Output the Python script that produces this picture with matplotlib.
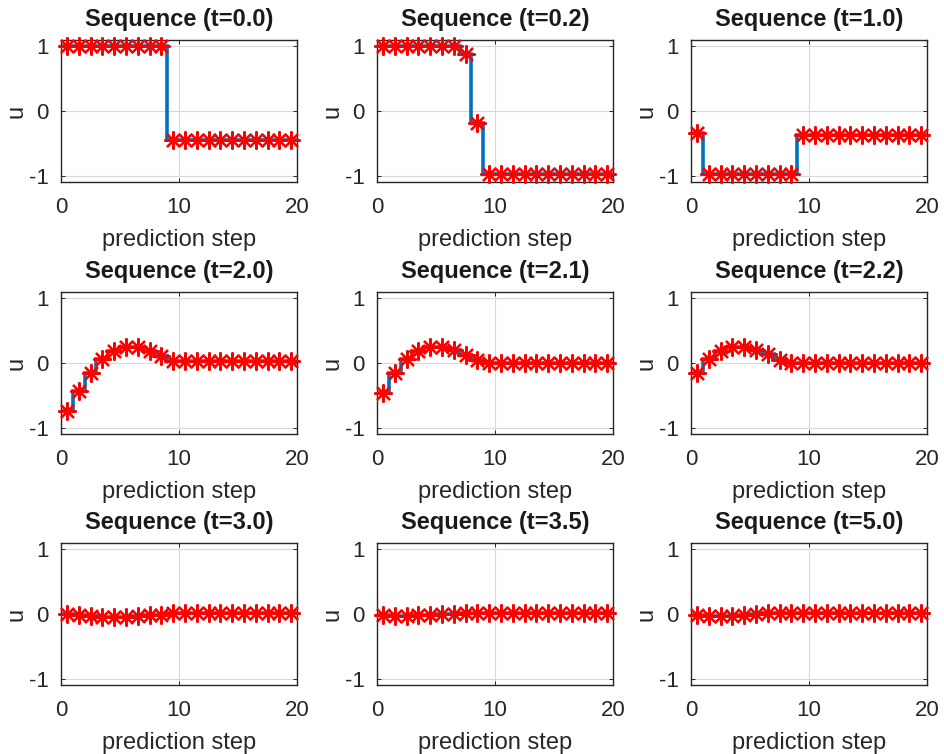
import numpy as np
import matplotlib
matplotlib.use("Agg")
import matplotlib.pyplot as plt

plt.rcParams['font.family'] = ['Liberation Sans', 'DejaVu Sans']
plt.rcParams['axes.unicode_minus'] = False

titles = ["Sequence (t=0.0)", "Sequence (t=0.2)", "Sequence (t=1.0)",
          "Sequence (t=2.0)", "Sequence (t=2.1)", "Sequence (t=2.2)",
          "Sequence (t=3.0)", "Sequence (t=3.5)", "Sequence (t=5.0)"]

u_t00 = [1, 1, 1, 1, 1, 1, 1, 1, 1,
         -0.44, -0.44, -0.44, -0.44, -0.44, -0.44, -0.44, -0.44, -0.44, -0.44, -0.44]
u_t02 = [1, 1, 1, 1, 1, 1, 1, 0.88, -0.18,
         -0.97, -0.97, -0.97, -0.97, -0.97, -0.97, -0.97, -0.97, -0.97, -0.97, -0.97]
u_t10 = [-0.34, -0.97, -0.97, -0.97, -0.97, -0.97, -0.97, -0.97, -0.97,
         -0.37, -0.37, -0.37, -0.37, -0.37, -0.37, -0.37, -0.37, -0.37, -0.37, -0.37]
u_t20 = [-0.73, -0.43, -0.15, 0.06, 0.19, 0.24, 0.24, 0.19, 0.10,
         0.025, 0.025, 0.025, 0.025, 0.025, 0.025, 0.025, 0.025, 0.025, 0.025, 0.025]
u_t21 = [-0.46, -0.15, 0.06, 0.19, 0.24, 0.24, 0.20, 0.13, 0.04,
         0.0, 0.0, 0.0, 0.0, 0.0, 0.0, 0.0, 0.0, 0.0, 0.0, 0.0]
u_t22 = [-0.15, 0.06, 0.19, 0.24, 0.24, 0.20, 0.14, 0.05, 0.0,
         0.0, 0.0, 0.0, 0.0, 0.0, 0.0, 0.0, 0.0, 0.0, 0.0, 0.0]
u_t30 = [0.0, -0.01, -0.03, -0.05, -0.05, -0.04, -0.03, -0.02, -0.01,
         0.01, 0.015, 0.015, 0.015, 0.015, 0.015, 0.015, 0.015, 0.015, 0.015, 0.015]
u_t35 = [-0.02, -0.03, -0.03, -0.02, -0.01, 0.0, 0.005, 0.01, 0.01,
         0.01, 0.01, 0.01, 0.01, 0.01, 0.01, 0.01, 0.01, 0.01, 0.01, 0.01]
u_t50 = [-0.02, -0.03, -0.03, -0.03, -0.01, 0.0, 0.01, 0.01, 0.01,
         0.01, 0.01, 0.01, 0.01, 0.01, 0.01, 0.01, 0.01, 0.01, 0.01, 0.01]

sequences = [u_t00, u_t02, u_t10, u_t20, u_t21, u_t22, u_t30, u_t35, u_t50]

x_ticks = [0, 10, 20]
y_ticks = [-1, 0, 1]
x_label = "prediction step"
y_label = "u"

fig = plt.figure(figsize=(9.44, 7.54), dpi=100)
W, H = 944, 754
lefts = [61, 377, 691]
tops = [40, 292, 543]
aw, ah = 236, 142

txt = '#262626'
for i, (title, u) in enumerate(zip(titles, sequences)):
    r, c = divmod(i, 3)
    ax = fig.add_axes([lefts[c] / W, 1 - (tops[r] + ah) / H, aw / W, ah / H])
    u = np.asarray(u, dtype=float)
    n = len(u)
    edges = np.arange(n + 1)
    ax.stairs(u, edges, baseline=None, color='#0072BD', linewidth=2.6, zorder=2)
    ax.plot(edges[:-1] + 0.5, u, linestyle='none', marker=(8, 2, 0),
            markersize=13, markeredgewidth=1.6, color='#FF0000',
            clip_on=False, zorder=3)
    ax.set_xlim(0, 20)
    ax.set_ylim(-1.09, 1.09)
    ax.set_xticks(x_ticks)
    ax.set_yticks(y_ticks)
    ax.grid(True, color='#d9d9d9', linewidth=0.8)
    ax.set_axisbelow(True)
    ax.tick_params(axis='x', pad=11)
    ax.tick_params(axis='y', pad=9)
    ax.tick_params(direction='in', length=3, width=0.7, top=True, right=True,
                   labelsize=16, colors=txt)
    for s in ax.spines.values():
        s.set_color(txt)
        s.set_linewidth(1.0)
    ax.set_title(title, fontsize=17, fontweight='bold', color='#1a1a1a', pad=10)
    ax.set_xlabel(x_label, fontsize=17, color=txt, labelpad=8)
    ax.set_ylabel(y_label, fontsize=17, color=txt, labelpad=1)

fig.savefig("out.png", dpi=100)
